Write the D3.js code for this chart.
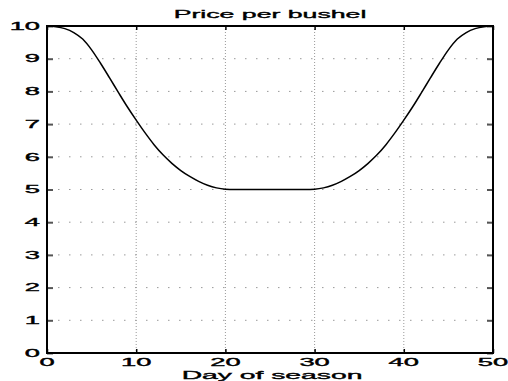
<!DOCTYPE html>
<html lang="en">
<head>
<meta charset="UTF-8">
<title>Price per bushel</title>
<script src="https://d3js.org/d3.v7.min.js"></script>
<style>
    body { margin: 0; background: #fff; }
    text { font-family: "Liberation Sans", Arial, Helvetica, sans-serif; fill: #000; stroke: #000; stroke-width: 0.35px; }
</style>
</head>
<body>
<svg id="chart" width="508" height="381"></svg>
<script>
// values
const days = [0, 1, 2, 3, 4, 5, 6, 7, 8, 9, 10, 11, 12, 13, 14, 15, 16, 17, 18, 19, 20,
              21, 22, 23, 24, 25, 26, 27, 28, 29, 30,
              31, 32, 33, 34, 35, 36, 37, 38, 39, 40, 41, 42, 43, 44, 45, 46, 47, 48, 49, 50];
const price = [10.00, 9.98, 9.92, 9.80, 9.60, 9.27, 8.86, 8.42, 7.97, 7.53, 7.12, 6.73, 6.37, 6.06, 5.80, 5.58, 5.40, 5.25, 5.13, 5.05, 5.01,
               5.00, 5.00, 5.00, 5.00, 5.00, 5.00, 5.00, 5.00, 5.00, 5.01,
               5.05, 5.13, 5.25, 5.40, 5.58, 5.80, 6.06, 6.37, 6.73, 7.12, 7.53, 7.97, 8.42, 8.86, 9.27, 9.60, 9.80, 9.92, 9.98, 10.00];
const xTicks = [0, 10, 20, 30, 40, 50];
const yTicks = [0, 1, 2, 3, 4, 5, 6, 7, 8, 9, 10];

const svg = d3.select("#chart");
const margin = { top: 26, right: 15, bottom: 28, left: 47 };
const width = +svg.attr("width") - margin.left - margin.right;
const height = +svg.attr("height") - margin.top - margin.bottom;

const x = d3.scaleLinear().domain([0, 50]).range([0, width]);
const y = d3.scaleLinear().domain([0, 10]).range([height, 0]);

const g = svg.append("g").attr("transform", `translate(${margin.left},${margin.top})`);

// dotted grid
g.selectAll(".hgrid").data(yTicks.slice(1, -1)).enter().append("line")
    .attr("x1", 0).attr("x2", width)
    .attr("y1", d => y(d)).attr("y2", d => y(d))
    .attr("stroke", "#999").attr("stroke-width", 1)
    .attr("stroke-dasharray", "1.5,9.5");
g.selectAll(".vgrid").data(xTicks.slice(1, -1)).enter().append("line")
    .attr("x1", d => x(d)).attr("x2", d => x(d))
    .attr("y1", 0).attr("y2", height)
    .attr("stroke", "#999").attr("stroke-width", 1)
    .attr("stroke-dasharray", "1,2");

// inward ticks on all four sides
const yTickLen = 6, xTickLen = 4;
const axLeft = g.append("g").call(d3.axisLeft(y).tickValues(yTicks).tickSize(-yTickLen).tickFormat(""));
const axRight = g.append("g").attr("transform", `translate(${width},0)`)
    .call(d3.axisRight(y).tickValues(yTicks).tickSize(-yTickLen).tickFormat(""));
const axBottom = g.append("g").attr("transform", `translate(0,${height})`)
    .call(d3.axisBottom(x).tickValues(xTicks).tickSize(-xTickLen).tickFormat(""));
const axTop = g.append("g").call(d3.axisTop(x).tickValues(xTicks).tickSize(-xTickLen).tickFormat(""));
[axLeft, axRight].forEach(a => {
    a.select(".domain").remove();
    a.selectAll(".tick line").attr("stroke", "#555").attr("stroke-width", 2);
});
[axBottom, axTop].forEach(a => {
    a.select(".domain").remove();
    a.selectAll(".tick line").attr("stroke", "#000").attr("stroke-width", 1.5);
});

// curve
const line = d3.line()
    .x((d, i) => x(days[i]))
    .y(d => y(d))
    .curve(d3.curveMonotoneX);
g.append("path")
    .datum(price)
    .attr("d", line)
    .attr("fill", "none")
    .attr("stroke", "#000")
    .attr("stroke-width", 1.5);

// axes box
g.append("rect")
    .attr("width", width).attr("height", height)
    .attr("fill", "none").attr("stroke", "#000").attr("stroke-width", 2);

// tick labels (wide, horizontally stretched text like the reference)
const sx = 2.6;
g.selectAll(".ylab").data(yTicks).enter().append("text")
    .attr("transform", d => `translate(-7,${y(d)}) scale(${sx},1)`)
    .attr("text-anchor", "end")
    .attr("dy", "0.36em")
    .style("font-size", "10.5px")
    .text(d => d);
g.selectAll(".xlab").data(xTicks).enter().append("text")
    .attr("transform", d => `translate(${x(d)},${height + 13}) scale(${sx},1)`)
    .attr("text-anchor", "middle")
    .style("font-size", "10.5px")
    .text(d => d);

// title and x label
svg.append("text")
    .attr("transform", `translate(${margin.left + width / 2},18) scale(2.32,1)`)
    .attr("text-anchor", "middle")
    .style("font-size", "11.5px")
    .text("Price per bushel");
svg.append("text")
    .attr("transform", `translate(${margin.left + width / 2 + 2},379) scale(2.46,1)`)
    .attr("text-anchor", "middle")
    .style("font-size", "11.5px")
    .text("Day of season");
</script>
</body>
</html>
